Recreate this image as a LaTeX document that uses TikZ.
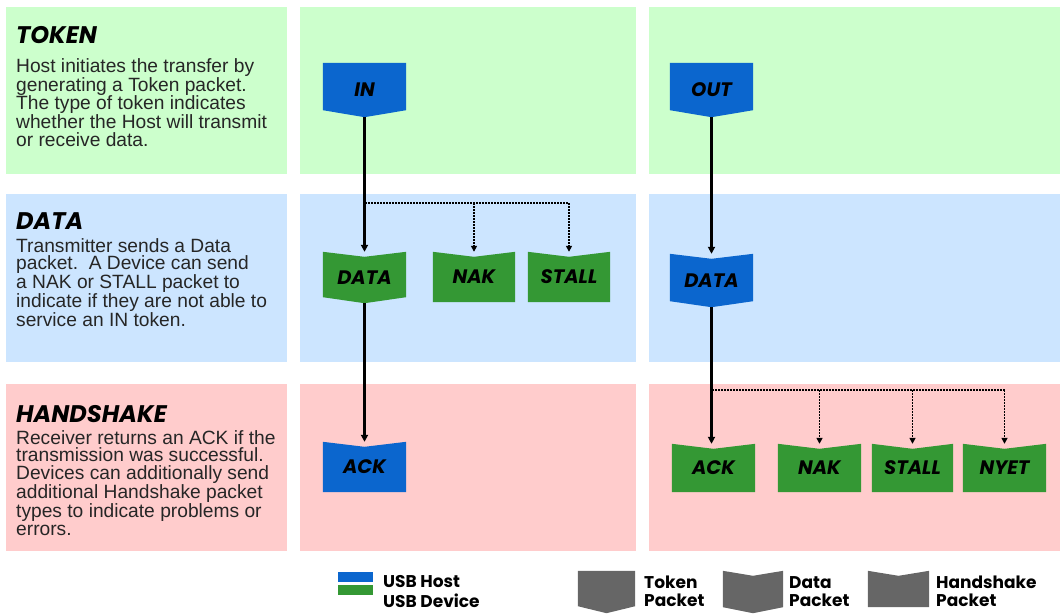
\documentclass[tikz,border=0pt]{standalone}
\usepackage{fontspec}
\setmainfont{Liberation Sans}
\newfontfamily\pkfont{Poppins}
\usetikzlibrary{arrows.meta,calc,backgrounds}
\definecolor{hostblue}{RGB}{11,102,206}
\definecolor{devgreen}{RGB}{52,152,52}
\definecolor{tokbg}{RGB}{204,255,204}
\definecolor{databg}{RGB}{204,229,255}
\definecolor{hsbg}{RGB}{255,204,204}
\definecolor{leggray}{RGB}{102,102,102}
\newcommand\tokshape[2]{\fill[#2] (#1.north west) -- (#1.north east) -- ($(#1.south east)+(0,-7)$) -- (#1.south) -- ($(#1.south west)+(0,-7)$) -- cycle;}
\newcommand\datshape[2]{\fill[#2] (#1.north west) -- ($(#1.north)+(0,5)$) -- (#1.north east) -- ($(#1.south east)+(0,-6)$) -- (#1.south) -- ($(#1.south west)+(0,-6)$) -- cycle;}
\newcommand\hsshape[2]{\fill[#2] (#1.north west) -- ($(#1.north)+(0,5)$) -- (#1.north east) -- (#1.south east) -- (#1.south west) -- cycle;}
\begin{document}
\begin{tikzpicture}[x=1pt,y=-1pt,
  pkt/.style={inner sep=0pt, minimum width=83pt, font=\pkfont\bfseries\itshape\fontsize{19.5}{19.5}\selectfont},
  heading/.style={anchor=base west, inner sep=0pt, font=\pkfont\bfseries\itshape\fontsize{24}{24}\selectfont},
  body/.style={anchor=north west, inner sep=0pt, align=left, text=black!85, font=\fontsize{19.2}{17.8}\selectfont},
  legtext/.style={anchor=base west, inner sep=0pt, align=left, font=\pkfont\bfseries\fontsize{17}{18}\selectfont},
  flow/.style={line width=2.2pt, -{Triangle[length=7pt,width=7pt]}},
  dotflow/.style={line width=1.6pt, dash pattern=on 1.5pt off 1.5pt},
  dotarrow/.style={dotflow, -{Triangle[length=6pt,width=6pt]}}
]
\useasboundingbox (0,0) rectangle (1060,613);

% text of left panels
\node[heading] (th) at (16,43) {TOKEN};
\node[body] (tb) at (16,58) {Host initiates the transfer by\\generating a Token packet.\\The type of token indicates\\whether the Host will transmit\\or receive data.};
\node[heading] (dh) at (16,229) {DATA};
\node[body] (db) at (16,238) {Transmitter sends a Data\\packet.\ \ A Device can send\\a NAK or STALL packet to\\indicate if they are not able to\\service an IN token.};
\node[heading] (hh) at (16,422) {HANDSHAKE};
\node[body] (hb) at (16,430) {Receiver returns an ACK if the\\transmission was successful.\\Devices can additionally send\\additional Handshake packet\\types to indicate problems or\\errors.};

% packets
\node[pkt, minimum height=54pt] (in) at (364.5,90) {IN};
\node[pkt, minimum height=54pt] (out) at (711.5,90) {OUT};
\node[pkt, minimum height=51pt] (data1) at (364.5,277.5) {DATA};
\node[pkt, minimum height=50pt, minimum width=82pt] (nak1) at (474,277) {NAK};
\node[pkt, minimum height=50pt, minimum width=82pt] (stall1) at (569,277) {STALL};
\node[pkt, minimum height=53pt] (data2) at (711.5,280.5) {DATA};
\node[pkt, minimum height=50pt] (ack1) at (364.5,467) {ACK};
\node[pkt, minimum height=48pt] (ack2) at (713.5,468) {ACK};
\node[pkt, minimum height=48pt] (nak2) at (819.5,468) {NAK};
\node[pkt, minimum height=48pt, minimum width=81pt] (stall2) at (912.5,468) {STALL};
\node[pkt, minimum height=48pt] (nyet) at (1004.5,468) {NYET};

% legend
\node[inner sep=0pt, minimum width=35pt, minimum height=10pt, fill=hostblue] (lhost) at (355.5,577) {};
\node[inner sep=0pt, minimum width=35pt, minimum height=10pt, fill=devgreen] (ldev) at (355.5,590) {};
\node[legtext] (lhostt) at (383,587) {USB Host};
\node[legtext] (ldevt) at (383,607) {USB Device};
\node[inner sep=0pt, minimum width=57pt, minimum height=42pt] (ltok) at (606.5,592) {};
\node[inner sep=0pt, minimum width=60pt, minimum height=42pt] (ldat) at (753,592) {};
\node[inner sep=0pt, minimum width=61pt, minimum height=36pt] (lhs) at (898.5,589) {};
\node[legtext] (ltokt) at (644,606) {Token\\Packet};
\node[legtext] (ldatt) at (789,606) {Data\\Packet};
\node[legtext] (lhst) at (936,606) {Handshake\\Packet};

% connectors
\coordinate (br1) at (365,203);
\coordinate (br2) at (712,390);
\draw[flow] (in.south) -- (data1.north);
\draw[flow] (data1.south) -- (ack1.north);
\draw[flow] (out.south) -- (data2.north);
\draw[flow] (data2.south) -- (data2.south |- ack2.north);
\draw[dotflow] (br1) -- (br1 -| stall1.north);
\draw[dotarrow] (br1 -| nak1.north) -- (nak1.north);
\draw[dotarrow] (br1 -| stall1.north) -- (stall1.north);
\draw[dotflow] (br2) -- (br2 -| nyet.north);
\draw[dotarrow] (br2 -| nak2.north) -- (nak2.north);
\draw[dotarrow] (br2 -| stall2.north) -- (stall2.north);
\draw[dotarrow] (br2 -| nyet.north) -- (nyet.north);

\begin{scope}[on background layer]
  \fill[tokbg] (6,7) rectangle (287,174);
  \fill[tokbg] (300,7) rectangle (636,174);
  \fill[tokbg] (649,7) rectangle (1060,174);
  \fill[databg] (6,194) rectangle (287,362);
  \fill[databg] (300,194) rectangle (636,362);
  \fill[databg] (649,194) rectangle (1060,362);
  \fill[hsbg] (6,384) rectangle (287,551);
  \fill[hsbg] (300,384) rectangle (636,551);
  \fill[hsbg] (649,384) rectangle (1060,551);
  \tokshape{in}{hostblue}
  \tokshape{out}{hostblue}
  \datshape{data1}{devgreen}
  \hsshape{nak1}{devgreen}
  \hsshape{stall1}{devgreen}
  \datshape{data2}{hostblue}
  \hsshape{ack1}{hostblue}
  \hsshape{ack2}{devgreen}
  \hsshape{nak2}{devgreen}
  \hsshape{stall2}{devgreen}
  \hsshape{nyet}{devgreen}
  \tokshape{ltok}{leggray}
  \datshape{ldat}{leggray}
  \hsshape{lhs}{leggray}
\end{scope}
\end{tikzpicture}
\end{document}
